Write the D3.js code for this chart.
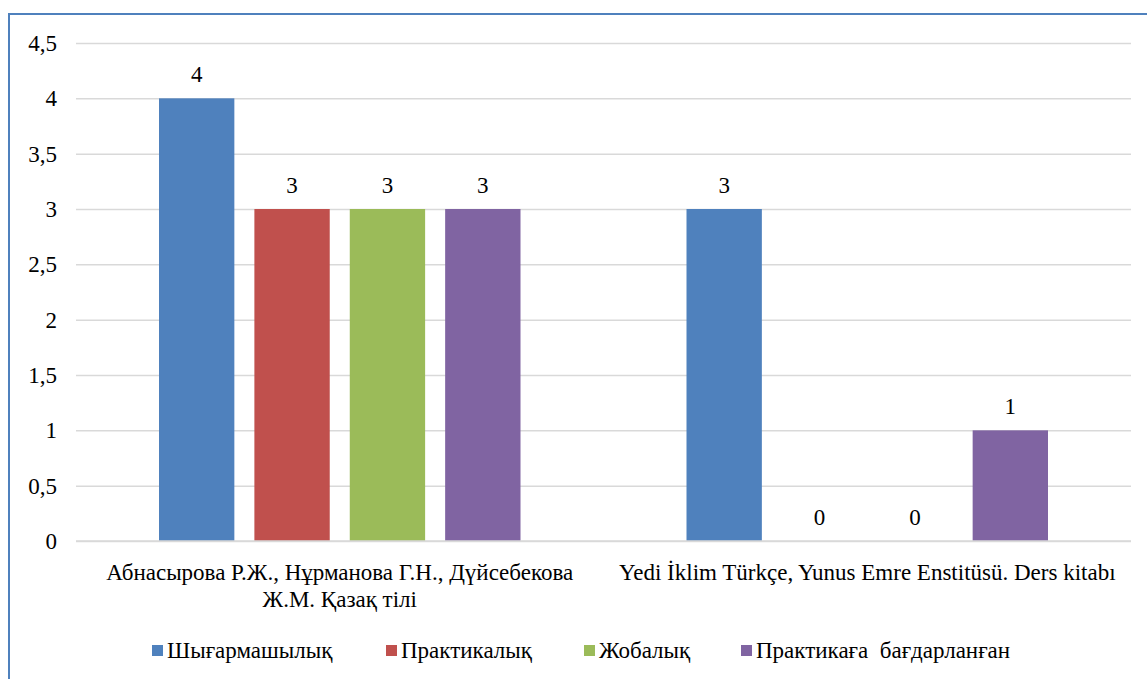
<!DOCTYPE html>
<html>
<head>
<meta charset="utf-8">
<script src="https://cdn.jsdelivr.net/npm/d3@7"></script>
</head>
<body style="margin:0">
<svg id="chart" width="1147" height="679"></svg>
<script>
// Textbooks compared on the axis
const categories = [
  ["Абнасырова Р.Ж., Нұрманова Г.Н., Дүйсебекова", "Ж.М. Қазақ тілі"],
  ["Yedi İklim Türkçe, Yunus Emre Enstitüsü. Ders kitabı"]
];
// Task types (series)
const seriesNames = ["Шығармашылық", "Практикалық", "Жобалық", "Практикаға  бағдарланған"];
const seriesColors = ["#4f81bd", "#c0504d", "#9bbb59", "#8064a2"];
// Counts per textbook, one row per category in series order
const values = [
  [4, 3, 3, 3],
  [3, 0, 0, 1]
];
const yTicks = [0, 0.5, 1, 1.5, 2, 2.5, 3, 3.5, 4, 4.5];

const svg = d3.select("#chart");
const W = 1147, H = 679;
const FONT = "Times New Roman";
const FS = 23;

// Outer frame (left and top edges visible, rest runs off the page)
svg.append("rect")
  .attr("x", 9).attr("y", 14)
  .attr("width", W + 20).attr("height", H + 20)
  .attr("fill", "none").attr("stroke", "#4f81bd").attr("stroke-width", 2);

const plot = { left: 76, right: 1131, top: 43, bottom: 541 };

const y = d3.scaleLinear().domain([0, 4.5]).range([plot.bottom, plot.top]);
const x0 = d3.scaleBand().domain(d3.range(categories.length))
  .range([plot.left, plot.right]).paddingInner(0).paddingOuter(0);
const gap = 83;
const x1 = d3.scaleBand().domain(d3.range(seriesNames.length))
  .range([gap, x0.bandwidth() - gap]).paddingInner(0.21).paddingOuter(0);

const fmt = v => String(v).replace(".", ",");

// Gridlines and y tick labels
const yAxis = svg.append("g").attr("transform", `translate(${plot.left},0)`)
  .call(d3.axisLeft(y).tickValues(yTicks).tickSize(-(plot.right - plot.left)).tickFormat(fmt).tickPadding(19));
yAxis.attr("font-family", FONT).attr("font-size", FS);
yAxis.select(".domain").remove();
yAxis.selectAll(".tick line").attr("stroke", "#d9d9d9").attr("stroke-width", 1.5);
yAxis.selectAll(".tick text")
  .attr("font-family", FONT).attr("font-size", FS).attr("fill", "#000");

// Bars
const groups = svg.append("g").selectAll("g")
  .data(values).join("g")
  .attr("transform", (d, i) => `translate(${x0(i)},0)`);

groups.selectAll("rect")
  .data(d => d.map((v, j) => ({ v, j })))
  .join("rect")
  .attr("x", d => x1(d.j))
  .attr("y", d => y(d.v))
  .attr("width", x1.bandwidth())
  .attr("height", d => y(0) - y(d.v))
  .attr("fill", d => seriesColors[d.j]);

// Value labels
groups.selectAll("text.val")
  .data(d => d.map((v, j) => ({ v, j })))
  .join("text").attr("class", "val")
  .attr("x", d => x1(d.j) + x1.bandwidth() / 2)
  .attr("y", d => y(d.v) - 16)
  .attr("text-anchor", "middle")
  .attr("font-family", FONT).attr("font-size", FS)
  .attr("fill", "#000")
  .text(d => fmt(d.v));

// Baseline
svg.append("line")
  .attr("x1", plot.left).attr("x2", plot.right)
  .attr("y1", y(0)).attr("y2", y(0))
  .attr("stroke", "#d9d9d9").attr("stroke-width", 1.5);

// Category labels
categories.forEach((lines, i) => {
  const cx = x0(i) + x0.bandwidth() / 2;
  lines.forEach((ln, k) => {
    svg.append("text")
      .attr("x", cx)
      .attr("y", 580 + k * 27)
      .attr("text-anchor", "middle")
      .attr("font-family", FONT).attr("font-size", FS)
      .attr("fill", "#000")
      .text(ln);
  });
});

// Legend
const legendX = [152, 386, 584, 741];
seriesNames.forEach((name, j) => {
  svg.append("rect")
    .attr("x", legendX[j]).attr("y", 645)
    .attr("width", 11).attr("height", 11)
    .attr("fill", seriesColors[j]);
  svg.append("text")
    .attr("x", legendX[j] + 15).attr("y", 658)
    .attr("font-family", FONT).attr("font-size", FS)
    .attr("fill", "#000")
    .style("white-space", "pre")
    .text(name);
});
</script>
</body>
</html>
